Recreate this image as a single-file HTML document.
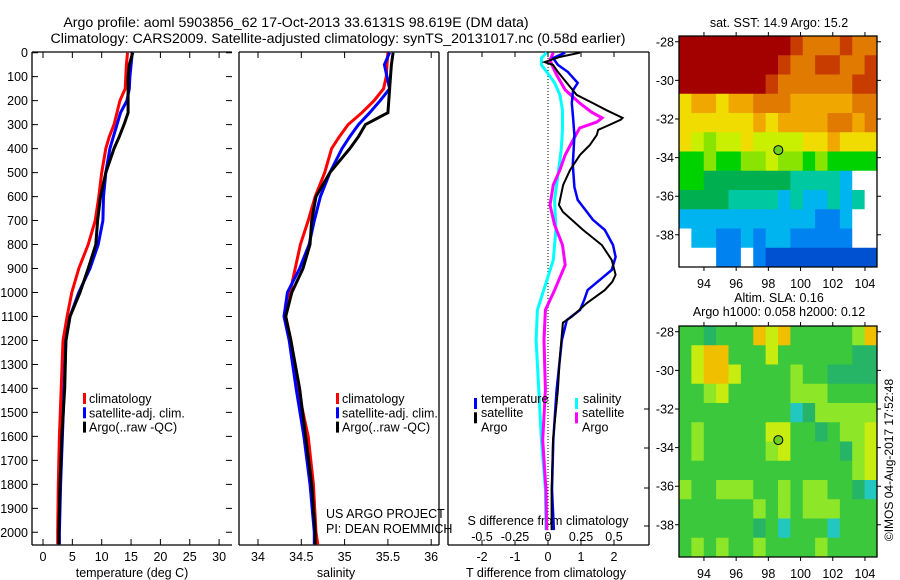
<!DOCTYPE html>
<html><head><meta charset="utf-8"><style>
html,body{margin:0;padding:0;background:#fff;}
svg{display:block;font-family:"Liberation Sans",sans-serif;}
</style></head><body>
<svg id="fig" width="900" height="580" viewBox="0 0 900 580" xmlns="http://www.w3.org/2000/svg">
<rect width="900" height="580" fill="#fff"/>
<text x="296" y="27" font-size="14.2" text-anchor="middle">Argo profile: aoml 5903856_62 17-Oct-2013 33.6131S 98.619E (DM data)</text>
<text x="338" y="43" font-size="14.2" text-anchor="middle">Climatology: CARS2009. Satellite-adjusted climatology: synTS_20131017.nc (0.58d earlier)</text>
<text x="779" y="27" font-size="12.5" text-anchor="middle">sat. SST: 14.9 Argo: 15.2</text>
<text x="779" y="302" font-size="12.5" text-anchor="middle">Altim. SLA: 0.16</text>
<text x="779" y="316" font-size="12.5" text-anchor="middle">Argo h1000: 0.058 h2000: 0.12</text>
<text transform="translate(893,460) rotate(-90)" font-size="12" text-anchor="middle">©IMOS 04-Aug-2017 17:52:48</text>
<g id="plots"></g>
</svg>
<script>
// ---------- DATA ----------
const depthTicks=[0,100,200,300,400,500,600,700,800,900,1000,1100,1200,1300,1400,1500,1600,1700,1800,1900,2000];
const tempTicks=[0,5,10,15,20,25,30];
const salTicks=[34,34.5,35,35.5,36];
const dTTicks=[-2,-1,0,1,2];
const dSTicks=[-0.5,-0.25,0,0.25,0.5];
const dSTickLabels=["-0.5","-0.25","0","0.25","0.5"];

const profDepth=[0,50,100,150,200,250,300,350,400,500,600,700,800,900,1000,1100,1200,1400,1600,1800,2000,2050];
const tClim=[14.4,14.2,14.1,14.0,13.1,12.6,12.1,11.3,10.7,10.0,9.5,8.9,7.7,6.1,4.9,4.1,3.4,3.1,2.8,2.6,2.5,2.5];
const tSat=[15.2,15.0,14.8,14.7,14.3,13.2,12.6,12.0,11.4,10.7,10.3,10.2,9.4,8.0,6.1,4.6,3.9,3.6,3.3,3.0,2.8,2.8];
const tArgo=[15.3,14.7,14.5,14.5,14.5,14.5,13.8,13.0,12.1,10.7,9.8,9.3,9.0,7.7,6.3,4.6,3.9,3.7,3.2,2.9,2.7,2.7];
const sClim=[35.50,35.49,35.48,35.45,35.34,35.20,35.04,34.94,34.85,34.77,34.66,34.58,34.49,34.43,34.37,34.32,34.38,34.46,34.58,34.64,34.67,34.69];
const sSat=[35.52,35.46,35.49,35.52,35.41,35.29,35.16,35.06,34.97,34.83,34.72,34.65,34.59,34.48,34.34,34.30,34.36,34.44,34.53,34.60,34.65,34.65];
const sArgo=[35.56,35.54,35.53,35.52,35.51,35.50,35.24,35.16,35.06,34.83,34.67,34.62,34.60,34.52,34.39,34.32,34.38,34.48,34.55,34.62,34.66,34.66];

const dTSatDepth=[0,22,51,80,126,156,210,272,343,468,560,614,697,739,802,852,906,990,1030,1073,1115,1198,1406,1615,1824,1991];
const dTSat=[0.52,0.15,0.3,0.6,0.9,0.76,0.72,0.76,0.8,0.75,0.8,0.9,1.36,1.72,1.97,2.05,1.93,1.2,1.1,0.97,0.57,0.42,0.26,0.16,0.12,0.18];
const dTArgoDepth=[0,18,39,51,80,126,176,210,240,272,280,300,322,343,385,426,489,551,635,664,739,802,864,926,955,990,1045,1101,1126,1268,1406,1615,1824,1991];
const dTArgo=[0.97,0.35,-0.1,0.15,0.3,0.57,0.87,1.36,1.78,2.26,2.2,1.88,1.52,1.48,1.27,0.97,0.67,0.46,0.33,0.45,1.06,1.63,1.93,2.05,1.95,1.72,1.17,0.72,0.45,0.36,0.3,0.15,0.11,0.11];
const dSArgoDepth=[0,30,64,93,155,210,248,272,289,314,364,426,489,551,635,718,802,885,990,1073,1198,1406,1615,1824,1991];
const dSArgo=[0.04,0.015,0.04,0.066,0.13,0.24,0.33,0.41,0.37,0.24,0.19,0.13,0.09,0.04,0.015,0.05,0.11,0.13,0.05,-0.02,-0.03,-0.02,-0.04,-0.015,-0.01];
const dSSatDepth=[0,22,51,80,126,176,240,322,405,489,614,739,864,968,1073,1198,1406,1615,1824,1991];
const dSSat=[-0.01,-0.05,-0.05,-0.01,0.05,0.09,0.11,0.11,0.1,0.08,0.05,0.06,0.04,-0.02,-0.08,-0.09,-0.07,-0.05,-0.02,-0.015];

const lonTicks=[94,96,98,100,102,104];
const latTicks=[-28,-30,-32,-34,-36,-38];
const argoLon=98.62, argoLat=-33.61;
const sstGrid=[
"0000000001222122",
"0000000012211221",
"0000000122222211",
"4334332223333322",
"4444443433332232",
"4565545555443444",
"7767766566767777",
"7788888889999a..",
"88889999a9aa9a9.",
"aaaaaaaaaaabba..",
".aabbabaabbbbb..",
"...bb.bccccccccc"];
const slaGrid=[
"ggtgggoyoggggglo",
"gyoogggyggggggtt",
"gyooygggglggtttt",
"gglyggggglllgggg",
"gggggggggctlllll",
"glgggggyyggtglly",
"glggggglyggggtly",
"ggggggggggggggly",
"lgglllgglgllggtc",
"gggggglglglllggg",
"ggggggtgcgggcggg",
"glglgglgggglgggg"];

// ---------- SCALES ----------
const yD=d=>52.7+0.2398*d;
const xT=t=>43+5.87*t;
const xS=s=>258+86.6*(s-34);
const xdT=v=>548+33*v;
const xdS=v=>548+132*v;
const lonX=l=>679+(l-92.45)*16.1;
const latY=(lat,top)=>top+(-27.7-lat)*19.3;

const NS="http://www.w3.org/2000/svg";
const root=document.getElementById('plots');
function mk(tag,attrs,parent){const e=document.createElementNS(NS,tag);for(const k in attrs)e.setAttribute(k,attrs[k]);(parent||root).appendChild(e);return e;}
function txt(x,y,s,size,anchor,parent){const e=mk('text',{x:x,y:y,'font-size':size,'text-anchor':anchor||'middle'},parent);e.textContent=s;return e;}

function line(xs,ds,xf,color,w,name){
  let p='';for(let i=0;i<xs.length;i++){p+=(i?'L':'M')+xf(xs[i]).toFixed(1)+' '+yD(ds[i]).toFixed(1);}
  const e=mk('path',{d:p,fill:'none',stroke:color,'stroke-width':w,'stroke-linejoin':'miter'});
  
  
}

function frame(x0,x1,name,left,right){
  const g=mk('g',{});
  
  
  let d='M'+x0+' 52H'+x1+'M'+x0+' 545H'+x1;
  if(left)d+='M'+x0+' 52V545';
  if(right)d+='M'+x1+' 52V545';
  mk('path',{d:d,stroke:'#000','stroke-width':1.3,fill:'none'},g);
  return g;
}
// Panel 1
const g1=frame(32,232,'temperature-panel',true,false);
depthTicks.forEach(d=>{const y=yD(d);mk('path',{d:'M32 '+y+'h6M232 '+y+'h-6',stroke:'#000'},g1);
  const t=txt(28,y+4.5,String(d),12.5,'end',g1);});
tempTicks.forEach(v=>{const x=xT(v);mk('path',{d:'M'+x+' 52v6M'+x+' 545v-6',stroke:'#000'},g1);txt(x,561,String(v),12.5,'middle',g1);});
txt(132,577,'temperature (deg C)',12.5,'middle',g1);
line(tClim,profDepth,xT,'#f00',3,'temp-climatology-line');
line(tSat,profDepth,xT,'#00f',3,'temp-satellite-line');
line(tArgo,profDepth,xT,'#000',3,'temp-argo-line');
// Panel 2
const g2=frame(239,439,'salinity-panel',true,true);
salTicks.forEach(v=>{const x=xS(v);mk('path',{d:'M'+x+' 52v6M'+x+' 545v-6',stroke:'#000'},g2);txt(x,561,String(v),12.5,'middle',g2);});
txt(336,577,'salinity',12.5,'middle',g2);
line(sClim,profDepth,xS,'#f00',3,'sal-climatology-line');
line(sSat,profDepth,xS,'#00f',3,'sal-satellite-line');
line(sArgo,profDepth,xS,'#000',3,'sal-argo-line');
txt(326,518,'US ARGO PROJECT',12.5,'start',g2);
txt(326,533,'PI: DEAN ROEMMICH',12.5,'start',g2);
function legend(x,y,items,name){
  const g=mk('g',{});
  items.forEach((it,i)=>{mk('rect',{x:x,y:y+i*14.3-10,width:3,height:11,fill:it[0]},g);txt(x+6,y+i*14.3,it[1],12.5,'start',g);});
}
legend(83,403,[['#f00','climatology'],['#00f','satellite-adj. clim.'],['#000','Argo(..raw -QC)']],'temperature-legend');
legend(336,403,[['#f00','climatology'],['#00f','satellite-adj. clim.'],['#000','Argo(..raw -QC)']],'salinity-legend');
// Panel 3
const g3=frame(448,649,'difference-panel',true,true);
mk('path',{d:'M548 52V540',stroke:'#000','stroke-dasharray':'1 2'},g3);
dTTicks.forEach(v=>{const x=xdT(v);mk('path',{d:'M'+x+' 52v5M'+x+' 545v-5',stroke:'#000'},g3);txt(x,561,String(v),12.5,'middle',g3);});
[409,448,488,526].forEach(y=>mk('path',{d:'M649 '+y+'h-5',stroke:'#000'},g3));
dSTicks.forEach((v,i)=>{txt(xdS(v),541,dSTickLabels[i],12.5,'middle',g3);});
txt(548,525,'S difference from climatology',12.5,'middle',g3);
txt(546,577,'T difference from climatology',12.5,'middle',g3);
line(dSSat,dSSatDepth,xdS,'#0ff',3,'sal-diff-satellite-line');
line(dSArgo,dSArgoDepth,xdS,'#f0f',3,'sal-diff-argo-line');
line(dTSat,dTSatDepth,xdT,'#00f',2.5,'temp-diff-satellite-line');
line(dTArgo,dTArgoDepth,xdT,'#000',2,'temp-diff-argo-line');
(function(){const g=mk('g',{});
 txt(481,403,'temperature',12.5,'start',g);txt(583,403,'salinity',12.5,'start',g);
 [['#00f','satellite',474],['#000','Argo',474],['#0ff','satellite',575],['#f0f','Argo',575]].forEach((it,i)=>{const r=i%2;mk('rect',{x:it[2],y:407+r*14.3-9,width:3,height:11,fill:it[0]},g);txt(it[2]+7,417+r*14.3,it[1],12.5,'start',g);});
})();

// Maps
const sstCol={'0':'#a30000','1':'#c83c00','2':'#e07a00','3':'#f0a800','4':'#f0dc00','5':'#c8f000','6':'#88e400','7':'#00d200','8':'#00b050','9':'#00c8a0','a':'#00b4f0','b':'#0082f0','c':'#0050d2','.':'#ffffff'};
const slaCol={'g':'#3cc83c','t':'#26b466','l':'#8ee628','y':'#c8ec10','o':'#f0c000','c':'#22c8c0'};
function map(top,grid,cols,name){
  const g=mk('g',{});
  const nr=grid.length,nc=grid[0].length,cw=198/nc,ch=231/nr;
  grid.forEach((row,r)=>{for(let c=0;c<nc;c++){const cell=mk('rect',{x:(679+c*cw).toFixed(2),y:(top+r*ch).toFixed(2),width:(cw+0.5).toFixed(2),height:(ch+0.5).toFixed(2),fill:cols[row[c]]},g);
    }});
  mk('path',{d:'M679 '+top+'H877V'+(top+231)+'H679Z',fill:'none',stroke:'#000','stroke-width':1.3},g);
  lonTicks.forEach(l=>{const x=lonX(l);mk('path',{d:'M'+x+' '+top+'v-4M'+x+' '+(top+231)+'v4',stroke:'#000'},g);txt(x,top+252,String(l),12.5,'middle',g);});
  latTicks.forEach(la=>{const y=latY(la,top);mk('path',{d:'M679 '+y+'h-4M877 '+y+'h4',stroke:'#000'},g);txt(674,y+4.5,String(la),12.5,'end',g);});
  const m=mk('circle',{cx:lonX(argoLon),cy:latY(argoLat,top),r:4.5,fill:'#70d020',stroke:'#000','stroke-width':1},g);
  
}
map(36,sstGrid,sstCol,'sst-map');
map(326,slaGrid,slaCol,'sla-map');
</script>
</body></html>
